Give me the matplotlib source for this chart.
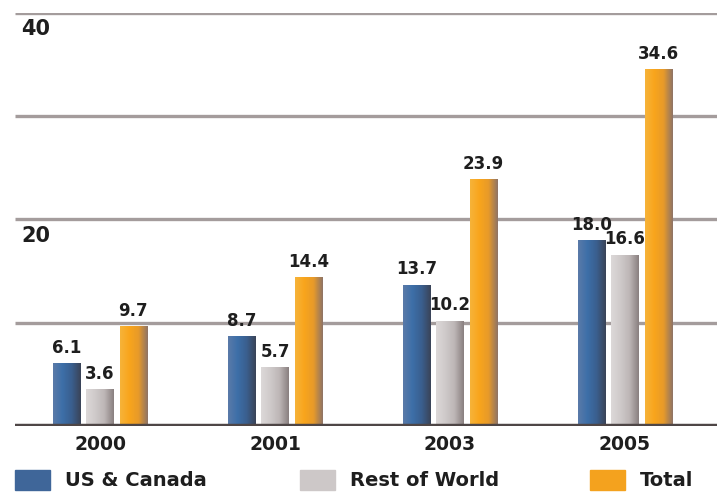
import numpy as np
import matplotlib
matplotlib.use("Agg")
import matplotlib.pyplot as plt
from matplotlib.colors import LinearSegmentedColormap
from matplotlib.patches import Rectangle

years = ["2000", "2001", "2003", "2005"]
series = ["US & Canada", "Rest of World", "Total"]
us_canada = [6.1, 8.7, 13.7, 18.0]
rest_world = [3.6, 5.7, 10.2, 16.6]
total = [9.7, 14.4, 23.9, 34.6]
ytick_labels = ["20", "40"]

values = [us_canada, rest_world, total]
gradients = [
    ["#5a7aa8", "#3d6fa8", "#3a5f8f", "#3a4458"],
    ["#dcd8d8", "#cfcaca", "#bdb6b6", "#8a8080"],
    ["#f6b33a", "#f9a51c", "#e79a2a", "#8f7466"],
]
solid = ["#3f6699", "#cdc8c8", "#f4a21e"]

fig = plt.figure(figsize=(7.17, 4.98), dpi=100)
ax = fig.add_axes([15 / 717, 1 - 426 / 498, 702 / 717, (426 - 13) / 498])
ax.set_xlim(-0.486, 3.526)
ax.set_ylim(0, 40)
for s in ax.spines.values():
    s.set_visible(False)
ax.set_xticks([])
ax.set_yticks([])

# gridlines
for g in [10, 20, 30, 40]:
    ax.axhline(g, color="#a49c9c", lw=2.4, zorder=1, solid_capstyle="butt")
ax.axhline(0, color="#4e4646", lw=3.2, zorder=5, solid_capstyle="butt")

x = np.arange(len(years))
offsets = [-0.19, 0.0, 0.19]
width = 0.155
for i, (vals, off) in enumerate(zip(values, offsets)):
    bars = ax.bar(x + off, vals, width, color=solid[i], zorder=3, linewidth=0)
    cmap = LinearSegmentedColormap.from_list("g%d" % i, gradients[i])
    grad = np.linspace(0, 1, 64).reshape(1, -1)
    for b, v in zip(bars, vals):
        x0, y0 = b.get_x(), b.get_y()
        im = ax.imshow(grad, cmap=cmap, extent=(x0, x0 + b.get_width(), y0, y0 + b.get_height()),
                       aspect="auto", zorder=4, interpolation="bilinear")
        im.set_clip_path(b)
        ax.text(b.get_x() + b.get_width() / 2, v + 0.6, f"{v:.1f}", ha="center", va="bottom",
                fontsize=12, fontweight="bold", color="#1e1e1e", zorder=6)

ax.set_xlim(-0.486, 3.526)
ax.set_ylim(0, 40)

# y labels below gridlines
for lab in ytick_labels:
    ax.text(-0.45, float(lab) - 0.6, lab, ha="left", va="top", fontsize=15,
            fontweight="bold", color="#1e1e1e", zorder=6)

# x labels
for xi, yr in zip(x, years):
    ax.text(xi, -0.9, yr, ha="center", va="top", fontsize=13.5, fontweight="bold",
            color="#1e1e1e", clip_on=False)

# legend
leg_x = [15, 300, 590]
for i, name in enumerate(series):
    px = leg_x[i]
    fig.patches.append(Rectangle((px / 717, 1 - 490 / 498), 35 / 717, 20 / 498,
                                 transform=fig.transFigure, color=solid[i], zorder=3))
    fig.text((px + 50) / 717, 1 - 480 / 498, name, ha="left", va="center",
             fontsize=14, fontweight="bold", color="#1e1e1e")

fig.savefig("out.png", dpi=100)
